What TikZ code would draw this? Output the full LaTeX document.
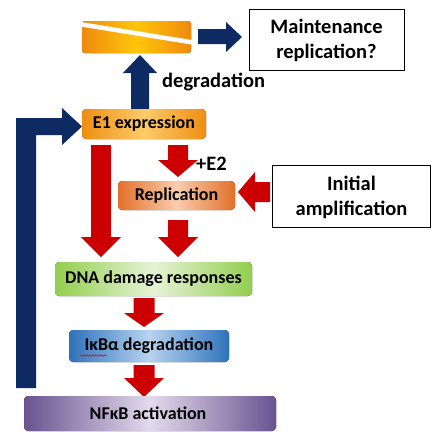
\documentclass[tikz,border=0pt]{standalone}
\usepackage{fontspec}
\setmainfont{Carlito}
\usetikzlibrary{shadings,decorations.pathmorphing}
\definecolor{navy}{HTML}{0E2A62}
\definecolor{arrred}{HTML}{CC0000}
\definecolor{orA}{HTML}{EE8A0E}
\definecolor{orB}{HTML}{FFC60A}
\definecolor{e1A}{HTML}{EE8E12}
\definecolor{e1B}{HTML}{FDCB6A}
\definecolor{rpA}{HTML}{E2702A}
\definecolor{rpB}{HTML}{F9CDAE}
\definecolor{gnA}{HTML}{92CE4E}
\definecolor{gnB}{HTML}{E6F3D6}
\definecolor{blA}{HTML}{2E72BC}
\definecolor{blB}{HTML}{B8D3EF}
\definecolor{puA}{HTML}{6A5290}
\definecolor{puB}{HTML}{E2DAEC}
\tikzset{
  every node/.style={font=\bfseries},
  boxtext/.style={font=\bfseries\fontsize{18}{20}\selectfont, text=black},
  bigtext/.style={font=\bfseries\fontsize{20.5}{25}\selectfont, text=black, align=center},
  flowbox/.style={rounded corners=4pt},
  redarrow/.style={fill=arrred, draw=none},
  bluearrow/.style={fill=navy, draw=none},
  framebox/.style={draw=black, line width=0.9pt, fill=white}
}
% down arrow: style, cx, shaft half width, head half width, ytop, yheadbase, ytip
\newcommand\blkdown[7]{\fill[#1] (#2-#3,#5) -- (#2+#3,#5) -- (#2+#3,#6) -- (#2+#4,#6) -- (#2,#7) -- (#2-#4,#6) -- (#2-#3,#6) -- cycle;}
\begin{document}
\begin{tikzpicture}[x=1pt,y=-1pt]
\useasboundingbox (0,0) rectangle (436,434);
\fill[white] (0,0) rectangle (436,434);

% top broken bar
\fill[rounded corners=3pt, left color=orA, right color=orA, middle color=orB] (82,21) rectangle (191,53);
\draw[white, line width=4.5pt] (76,23.5) -- (196,43);
\node[coordinate] (bar) at (136,37) {};

% blue right arrow to Maintenance
\fill[bluearrow] (198,29) -- (226,29) -- (226,22) -- (242,37) -- (226,52) -- (226,44) -- (198,44) -- cycle;
\node[framebox, minimum width=155pt, minimum height=61pt, inner sep=0pt] (maint) at (326.5,39.5) {};
\node[bigtext] (mainttext) at (326.5,40) {Maintenance\\replication?};

% blue up arrow
\fill[bluearrow] (131,109) -- (131,73) -- (123,73) -- (140,55) -- (157,73) -- (149,73) -- (149,109) -- cycle;
\node[bigtext, anchor=west, inner sep=0pt] (degr) at (162,82) {degradation};

% E1 expression
\fill[flowbox, left color=e1A, right color=e1A, middle color=e1B] (82,109) rectangle (206,139);
\node[boxtext] (e1) at (144,124) {E1 expression};

% blue feedback L arrow
\fill[bluearrow] (16,388) -- (16,118) -- (62,118) -- (62,108) -- (82,126.5) -- (62,145) -- (62,135) -- (36,135) -- (36,388) -- cycle;

% red arrows
\blkdown{redarrow}{101}{10}{20}{145}{237}{257}
\blkdown{redarrow}{178}{10}{20}{145}{160}{177}
\node[bigtext, anchor=west, inner sep=0pt] (e2) at (196,164) {+E2};

% Replication
\fill[flowbox, left color=rpA, right color=rpA, middle color=rpB] (118,181) rectangle (235,210);
\node[boxtext] (repl) at (176.5,196) {Replication};

% Initial amplification
\fill[redarrow] (270,182) -- (255,182) -- (255,172) -- (238,192) -- (255,212) -- (255,202) -- (270,202) -- cycle;
\node[framebox, minimum width=158pt, minimum height=62pt, inner sep=0pt] (init) at (351.5,196.5) {};
\node[bigtext] (inittext) at (351.5,197) {Initial\\amplification};

\blkdown{redarrow}{178}{10}{20}{220}{237}{257}

% DNA damage
\fill[flowbox, left color=gnA, right color=gnA, middle color=gnB] (55,262) rectangle (252,296);
\node[boxtext] (dna) at (153.5,279) {DNA damage responses};

\blkdown{redarrow}{144}{10.5}{20}{298}{313}{327}

% IkBa
\fill[flowbox, left color=blA, right color=blA, middle color=blB] (69,330) rectangle (229,362);
\node[boxtext] (ikb) at (149,346) {IκBα degradation};
\draw[red!85!black, line width=0.5pt, decorate, decoration={snake, amplitude=0.8pt, segment length=3pt}] (80,355.5) -- (107,355.5);

\blkdown{redarrow}{144}{10.5}{20}{365}{378}{397}

% NFkB
\fill[flowbox, left color=puA, right color=puA, middle color=puB] (24,396) rectangle (276,431);
\node[boxtext] (nfkb) at (148,413) {NFκB activation};
\end{tikzpicture}
\end{document}
